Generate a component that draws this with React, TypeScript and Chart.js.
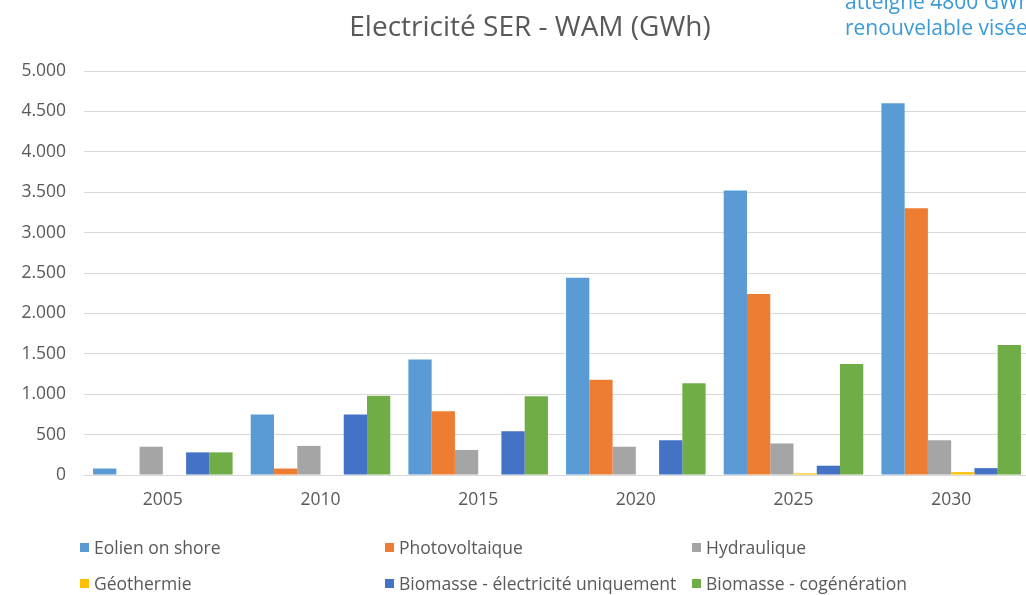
import React, { useEffect, useRef } from "react";
import { Chart, registerables } from "chart.js";

Chart.register(...registerables);

const years = ["2005", "2010", "2015", "2020", "2025", "2030"];
const eolien = [80, 750, 1430, 2440, 3520, 4600];
const photovoltaique = [0, 80, 790, 1180, 2240, 3300];
const hydraulique = [350, 360, 310, 350, 390, 430];
const geothermie = [0, 0, 0, 0, 20, 35];
const biomasseElec = [280, 750, 540, 430, 115, 85];
const biomasseCogen = [280, 980, 975, 1135, 1375, 1610];
const seriesNames = [
  "Eolien on shore",
  "Photovoltaique",
  "Hydraulique",
  "Géothermie",
  "Biomasse - électricité uniquement",
  "Biomasse - cogénération",
];
const seriesColors = ["#5B9BD5", "#ED7D31", "#A5A5A5", "#FFC000", "#4472C4", "#70AD47"];
const seriesData = [eolien, photovoltaique, hydraulique, geothermie, biomasseElec, biomasseCogen];
const titleText = "Electricité SER - WAM (GWh)";
const noteLines = ["atteigne 4800 GWh", "renouvelable visée"];

const FONT = "'Open Sans', 'Noto Sans', sans-serif";
const GREY = "#595959";

export default function App() {
  const ref = useRef<HTMLCanvasElement | null>(null);

  useEffect(() => {
    document.body.style.margin = "0";
    const chart = new Chart(ref.current!, {
      type: "bar",
      data: {
        labels: years,
        datasets: seriesNames.map((n, i) => ({
          label: n,
          data: seriesData[i],
          backgroundColor: seriesColors[i],
          borderWidth: 0,
          categoryPercentage: 0.885,
          barPercentage: 1,
        })),
      },
      options: {
        animation: false,
        responsive: false,
        layout: { padding: { left: 0, right: 2, top: 71, bottom: 0 } },
        plugins: {
          legend: { display: false },
          tooltip: { enabled: false },
          title: { display: false },
        },
        scales: {
          x: {
            grid: { display: false, drawTicks: false },
            border: { display: false },
            ticks: { color: GREY, font: { family: FONT, size: 17.5 }, padding: 15 },
            afterFit: (s: any) => {
              s.height = 120;
            },
          },
          y: {
            min: 0,
            max: 5000,
            grid: { color: "#D9D9D9", drawTicks: false, lineWidth: 1 },
            border: { display: false },
            ticks: {
              stepSize: 500,
              color: GREY,
              padding: 18,
              font: { family: FONT, size: 17.5 },
              callback: (v: any) => {
                const n = Number(v);
                return n >= 1000 ? Math.floor(n / 1000) + "." + String(n % 1000).padStart(3, "0") : String(n);
              },
            },
            afterFit: (s: any) => {
              s.width = 84;
            },
          },
        },
      },
    });
    return () => chart.destroy();
  }, []);

  const legendCols = [80, 385, 692];
  const legendRows = [547, 583];

  return (
    <div style={{ position: "relative", width: 1026, height: 595, overflow: "hidden", background: "#fff", fontFamily: FONT }}>
      <canvas ref={ref} width={1032} height={595} style={{ position: "absolute", left: 0, top: 0 }} />
      <div
        style={{
          position: "absolute",
          left: 0,
          width: 1060,
          top: 8,
          textAlign: "center",
          fontSize: 28,
          lineHeight: "34px",
          color: GREY,
          whiteSpace: "nowrap",
        }}
      >
        {titleText}
      </div>
      <div
        style={{
          position: "absolute",
          left: 845,
          top: -12,
          fontSize: 21,
          lineHeight: "26px",
          color: "#3A9AD9",
          whiteSpace: "nowrap",
        }}
      >
        {noteLines.map((l) => (
          <div key={l}>{l}</div>
        ))}
      </div>
      {seriesNames.map((n, i) => (
        <div
          key={n}
          style={{
            position: "absolute",
            left: legendCols[i % 3],
            top: legendRows[Math.floor(i / 3)] - 12,
            height: 24,
            display: "flex",
            alignItems: "center",
            whiteSpace: "nowrap",
            fontSize: 17.5,
            color: GREY,
          }}
        >
          <span style={{ display: "inline-block", width: 9, height: 9, background: seriesColors[i], marginRight: 5 }} />
          {n}
        </div>
      ))}
    </div>
  );
}
